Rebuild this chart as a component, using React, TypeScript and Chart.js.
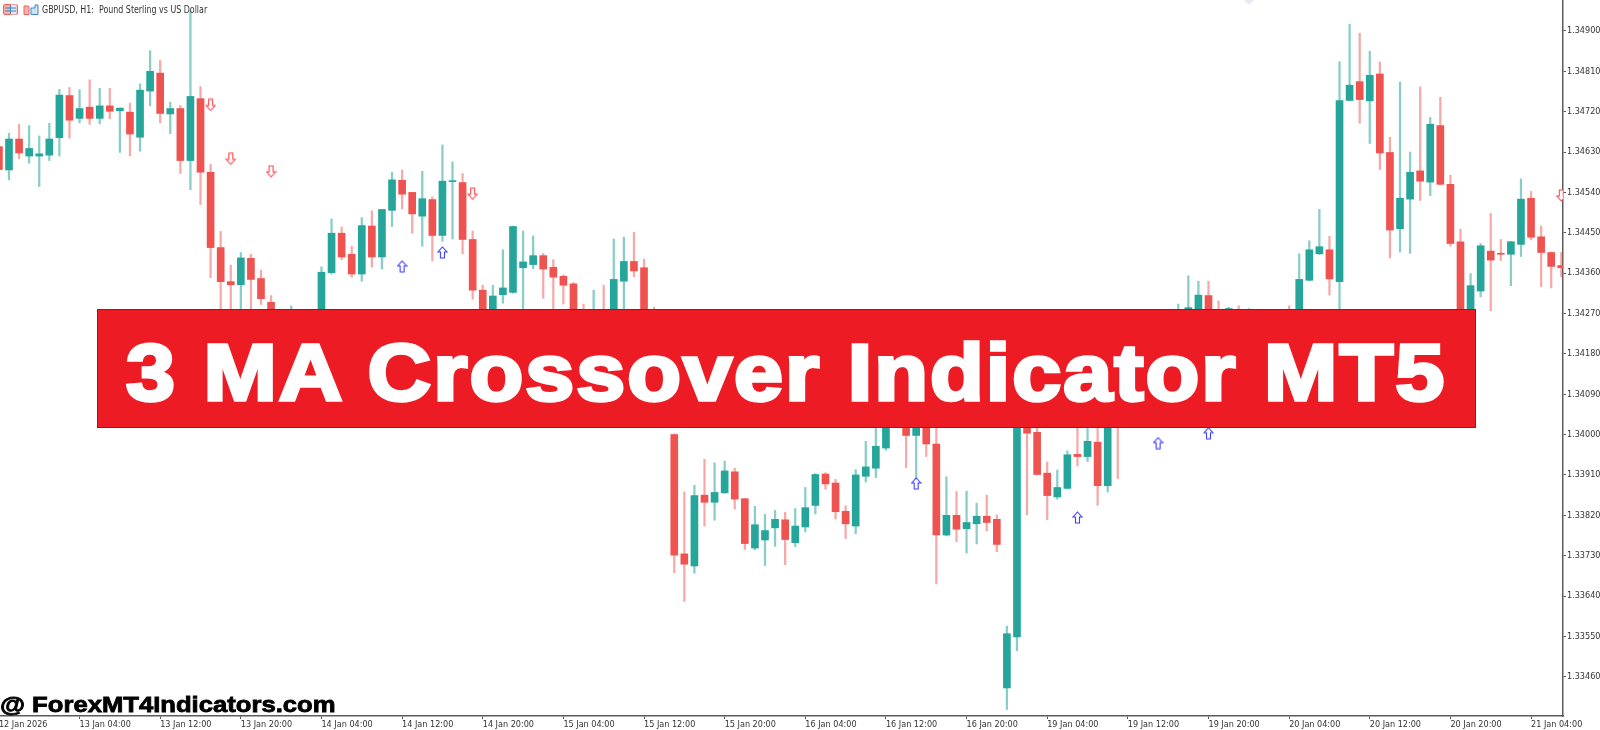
import React, { useEffect, useRef } from 'react';
import { Chart, registerables } from 'chart.js';

Chart.register(...registerables);

// prices in points (1 point = 0.00001), one entry per H1 bar
const opens = [
  134642, 134590, 134659, 134621, 134621, 134623, 134662, 134756, 134705, 134730, 134705, 134733, 134722,
  134719, 134663, 134766, 134806, 134715, 134727, 134611, 134749, 134585, 134417, 134341, 134334, 134393,
  134348, 134295, 134230, 134170, 134235, 134255, 134225, 134361, 134449, 134402, 134358, 134465, 134396,
  134500, 134567, 134540, 134487, 134524, 134444, 134564, 134562, 134435, 134322, 134250, 134312, 134317,
  134372, 134379, 134399, 134373, 134353, 134336, 134245, 134215, 134252, 134225, 134342, 134386, 134372,
  134240, 134130, 134000, 133734, 133707, 133865, 133849, 133870, 133917, 133857, 133747, 133765, 133792,
  133810, 133759, 133794, 133842, 133912, 133892, 133829, 133796, 133907, 133925, 133970, 134060, 134040,
  133998, 134045, 133979, 133776, 133820, 133790, 133801, 133818, 133811, 133435, 133549, 134040, 134005,
  133914, 133861, 133880, 133956, 133951, 133983, 133886, 134030, 134030, 134070, 134130, 134095, 134160,
  134225, 134260, 134275, 134310, 134255, 134240, 134275, 134255, 134270, 134245, 134262, 134275, 134235,
  134344, 134403, 134412, 134341, 134745, 134787, 134744, 134804, 134629, 134459, 134525, 134588, 134563,
  134689, 134558, 134430, 134240, 134320, 134409, 134404, 134402, 134424, 134527, 134441, 134406, 134377,
];
const highs = [
  134672, 134672, 134692, 134689, 134666, 134694, 134770, 134774, 134769, 134791, 134772, 134772, 134728,
  134739, 134782, 134856, 134834, 134741, 134734, 134945, 134776, 134603, 134453, 134378, 134406, 134402,
  134367, 134310, 134245, 134287, 134270, 134272, 134374, 134481, 134463, 134420, 134484, 134499, 134502,
  134585, 134590, 134540, 134587, 134530, 134646, 134608, 134582, 134454, 134333, 134333, 134412, 134465,
  134454, 134443, 134404, 134390, 134356, 134339, 134291, 134322, 134333, 134436, 134440, 134451, 134391,
  134284, 134140, 134002, 133872, 133887, 133945, 133937, 133941, 133925, 133858, 133840, 133822, 133831,
  133827, 133835, 133882, 133913, 133915, 133900, 133841, 133922, 133985, 134035, 134090, 134085, 134060,
  134070, 134060, 134060, 133906, 133873, 133874, 133847, 133865, 133821, 133573, 134060, 134060, 134040,
  133939, 133921, 133964, 134040, 134040, 134040, 134070, 134050, 134100, 134150, 134160, 134190, 134260,
  134291, 134354, 134342, 134342, 134298, 134284, 134287, 134281, 134278, 134276, 134275, 134287, 134403,
  134432, 134502, 134442, 134831, 134915, 134895, 134855, 134831, 134663, 134786, 134630, 134775, 134707,
  134752, 134578, 134458, 134359, 134426, 134493, 134435, 134431, 134570, 134542, 134465, 134407, 134406,
];
const lows = [
  134570, 134568, 134615, 134605, 134553, 134611, 134621, 134661, 134695, 134692, 134693, 134704, 134629,
  134621, 134632, 134733, 134695, 134671, 134582, 134546, 134513, 134350, 134230, 134240, 134250, 134260,
  134290, 134200, 134170, 134150, 134215, 134205, 134205, 134358, 134390, 134351, 134342, 134373, 134369,
  134464, 134503, 134449, 134420, 134387, 134431, 134436, 134403, 134302, 134220, 134235, 134293, 134315,
  134240, 134370, 134304, 134250, 134291, 134220, 134200, 134195, 134205, 134205, 134250, 134352, 134220,
  134110, 134020, 133692, 133628, 133691, 133796, 133809, 133869, 133834, 133744, 133743, 133708, 133751,
  133710, 133750, 133783, 133823, 133878, 133812, 133768, 133779, 133894, 133904, 133965, 134030, 133926,
  133899, 133951, 133667, 133774, 133761, 133736, 133756, 133785, 133739, 133387, 133518, 133821, 133910,
  133810, 133856, 133879, 133930, 133940, 133842, 133872, 133902, 134020, 134055, 134075, 134050, 134140,
  134200, 134240, 134255, 134225, 134205, 134220, 134240, 134240, 134230, 134230, 134225, 134215, 134210,
  134343, 134402, 134311, 134240, 134744, 134694, 134649, 134591, 134394, 134407, 134404, 134522, 134533,
  134557, 134420, 134220, 134225, 134307, 134276, 134388, 134332, 134397, 134434, 134330, 134327, 134352,
];
const closes = [
  134591, 134659, 134628, 134638, 134626, 134659, 134757, 134701, 134727, 134705, 134733, 134721, 134728,
  134670, 134768, 134810, 134716, 134727, 134611, 134754, 134585, 134417, 134341, 134334, 134394, 134346,
  134303, 134230, 134190, 134235, 134255, 134225, 134362, 134449, 134396, 134358, 134466, 134396, 134502,
  134568, 134536, 134492, 134526, 134444, 134565, 134565, 134435, 134322, 134250, 134309, 134327, 134464,
  134385, 134399, 134369, 134351, 134333, 134240, 134215, 134250, 134225, 134346, 134386, 134365, 134240,
  134130, 134030, 133731, 133711, 133864, 133849, 133871, 133919, 133856, 133757, 133799, 133786, 133811,
  133766, 133796, 133837, 133911, 133890, 133828, 133801, 133910, 133928, 133974, 134060, 134050, 133998,
  134045, 133979, 133776, 133820, 133789, 133804, 133818, 133804, 133755, 133556, 134040, 134003, 133911,
  133864, 133882, 133955, 133951, 133985, 133886, 134030, 134020, 134070, 134130, 134095, 134160, 134225,
  134265, 134283, 134311, 134250, 134225, 134281, 134255, 134272, 134245, 134262, 134240, 134235, 134346,
  134412, 134419, 134347, 134745, 134779, 134747, 134801, 134628, 134456, 134527, 134585, 134565, 134692,
  134558, 134426, 134240, 134332, 134421, 134389, 134402, 134430, 134525, 134440, 134406, 134375, 134372,
];

const sellBars = [21, 23, 27, 47, 155];
const sellPrices = [134735, 134615, 134587, 134537, 134533];
const buyBars = [40, 44, 91, 107, 115, 120];
const buyPrices = [134375, 134406, 133891, 133815, 133981, 134003];

const timeTickBars = [0, 8, 16, 24, 32, 40, 48, 56, 64, 72, 80, 88, 96, 104, 112, 120, 128, 136, 144, 152];
const timeTickLabels = [
  '12 Jan 2026', '13 Jan 04:00', '13 Jan 12:00', '13 Jan 20:00', '14 Jan 04:00', '14 Jan 12:00', '14 Jan 20:00',
  '15 Jan 04:00', '15 Jan 12:00', '15 Jan 20:00', '16 Jan 04:00', '16 Jan 12:00', '16 Jan 20:00', '19 Jan 04:00',
  '19 Jan 12:00', '19 Jan 20:00', '20 Jan 04:00', '20 Jan 12:00', '20 Jan 20:00', '21 Jan 04:00',
];
const priceTicks = [
  133460, 133550, 133640, 133730, 133820, 133910, 134000, 134090, 134180, 134270, 134360, 134450, 134540,
  134630, 134720, 134810, 134900,
];

const UP = '#26a69a';
const DOWN = '#ef5350';
const UP_WICK = 'rgba(38,166,154,0.55)';
const DOWN_WICK = 'rgba(239,83,80,0.5)';
const AXIS = '#5c5c5c';
const AXIS_FONT = '"DejaVu Sans Condensed", "Liberation Sans", sans-serif';

// hollow MT5 style arrow used as the point image
const makeArrow = (color: string, up: boolean) => {
  const c = document.createElement('canvas');
  c.width = 11;
  c.height = 13;
  const ctx = c.getContext('2d')!;
  if (!up) {
    ctx.translate(0, 13);
    ctx.scale(1, -1);
  }
  ctx.beginPath();
  ctx.moveTo(5.5, 1);
  ctx.lineTo(10, 6);
  ctx.lineTo(7.5, 6);
  ctx.lineTo(7.5, 12);
  ctx.lineTo(3.5, 12);
  ctx.lineTo(3.5, 6);
  ctx.lineTo(1, 6);
  ctx.closePath();
  ctx.fillStyle = '#fff';
  ctx.fill();
  ctx.strokeStyle = color;
  ctx.lineWidth = 1.1;
  ctx.stroke();
  return c;
};

const App: React.FC = () => {
  const canvasRef = useRef<HTMLCanvasElement>(null);

  useEffect(() => {
    document.body.style.margin = '0';
    if (!canvasRef.current) return;

    const isUp = (i: number) => closes[i] >= opens[i];

    const chart = new Chart(canvasRef.current, {
      type: 'bar',
      data: {
        datasets: [
          {
            label: 'Wicks',
            order: 3,
            data: highs.map((h, i) => ({ x: i, y: [lows[i], h] })) as any,
            backgroundColor: highs.map((_, i) => (isUp(i) ? UP_WICK : DOWN_WICK)),
            barThickness: 1.6,
            grouped: false,
          },
          {
            label: 'Bodies',
            order: 2,
            data: opens.map((o, i) => ({ x: i, y: [o, closes[i]] })) as any,
            backgroundColor: opens.map((_, i) => (isUp(i) ? UP : DOWN)),
            barThickness: 7,
            minBarLength: 1,
            grouped: false,
          },
          {
            type: 'scatter',
            label: 'Sell',
            order: 1,
            data: sellBars.map((b, i) => ({ x: b, y: sellPrices[i] })),
            pointStyle: makeArrow('#f8474a', false),
          },
          {
            type: 'scatter',
            label: 'Buy',
            order: 1,
            data: buyBars.map((b, i) => ({ x: b, y: buyPrices[i] })),
            pointStyle: makeArrow('#3c3cff', true),
          },
        ] as any,
      },
      options: {
        animation: false,
        responsive: false,
        devicePixelRatio: 1,
        // scatter points would otherwise pull the plot in by their radius
        layout: { padding: 0, autoPadding: false },
        plugins: { legend: { display: false }, title: { display: false }, tooltip: { enabled: false } },
        scales: {
          x: {
            type: 'linear',
            offset: false,
            min: 0.107,
            max: 155.17,
            afterBuildTicks: (s: any) => {
              s.ticks = timeTickBars.map(value => ({ value }));
            },
            afterFit: (s: any) => {
              s.height = 14;
              s.paddingLeft = 0;
              s.paddingRight = 0;
            },
            grid: { offset: false, drawOnChartArea: false, tickLength: 3, tickColor: AXIS, tickWidth: 1 },
            border: { color: AXIS, width: 1.5 },
            ticks: {
              autoSkip: false,
              maxRotation: 0,
              align: 'start',
              padding: 0,
              color: '#333',
              font: { family: AXIS_FONT, size: 9 },
              callback: (v: any) => timeTickLabels[timeTickBars.indexOf(v)],
            },
          },
          y: {
            type: 'linear',
            position: 'right',
            min: 133372.5,
            max: 134969,
            afterBuildTicks: (s: any) => {
              s.ticks = priceTicks.map(value => ({ value }));
            },
            afterFit: (s: any) => {
              s.width = 37;
              s.paddingTop = 0;
              s.paddingBottom = 0;
            },
            grid: { drawOnChartArea: false, tickLength: 3, tickColor: AXIS, tickWidth: 1 },
            border: { color: AXIS, width: 1.5 },
            ticks: {
              autoSkip: false,
              padding: 1,
              color: '#333',
              font: { family: AXIS_FONT, size: 9 },
              callback: (v: any) => (v / 100000).toFixed(5),
            },
          },
        },
      },
    });

    return () => chart.destroy();
  }, []);

  return (
    <div style={{ position: 'relative', width: 1600, height: 730, overflow: 'hidden', background: '#fff', fontFamily: 'Liberation Sans, sans-serif' }}>
      <canvas ref={canvasRef} width={1600} height={730} style={{ display: 'block' }} />

      {/* chart window icons and symbol caption */}
      <svg width="40" height="14" style={{ position: 'absolute', left: 2, top: 3 }}>
        <rect x="1.5" y="1.5" width="14" height="10" rx="1.5" fill="#f7b3ad" stroke="#e8625c" />
        <path d="M8.5 1.5h6v10h-6z" fill="#dfeaf6" />
        <path d="M3 5h11M3 8h11M8.5 2v9" stroke="#3d86c6" strokeWidth="1" />
        <path d="M22 3h4l1 1v7.5h-5z" fill="#f7b3ad" stroke="#e8625c" />
        <path d="M29 5h4v-3h3v9.5h-7z" fill="#cfe3f5" stroke="#3d86c6" />
      </svg>
      <div
        style={{
          position: 'absolute',
          left: 42,
          top: 4,
          font: '10px "DejaVu Sans Condensed", "Liberation Sans", sans-serif',
          color: '#333',
          whiteSpace: 'pre',
          transform: 'scaleX(0.88)',
          transformOrigin: 'left',
        }}
      >
        GBPUSD, H1:  Pound Sterling vs US Dollar
      </div>

      {/* stray marker clipped at the top edge */}
      <svg width="10" height="5" style={{ position: 'absolute', left: 1244, top: 0 }}>
        <path d="M0 0h10L5 5z" fill="#ece6f0" />
      </svg>

      <div
        style={{
          position: 'absolute',
          left: 97,
          top: 309,
          width: 1379,
          height: 119,
          boxSizing: 'border-box',
          background: '#ed1c24',
          border: '1px solid #4a3a3a',
          color: '#fff',
          fontWeight: 700,
          fontSize: 80,
          lineHeight: '125px',
          textAlign: 'center',
          whiteSpace: 'nowrap',
        }}
      >
        <span style={{ display: 'inline-block', transform: 'scaleX(1.1)', WebkitTextStroke: '3.5px #fff', letterSpacing: 1.85 }}>
          3 MA Crossover Indicator MT5
        </span>
      </div>

      <div
        style={{
          position: 'absolute',
          left: 0,
          top: 692,
          fontWeight: 700,
          fontSize: 22,
          lineHeight: '26px',
          color: '#000',
          whiteSpace: 'nowrap',
          transform: 'scaleX(1.165)',
          transformOrigin: 'left',
          WebkitTextStroke: '0.8px #000',
        }}
      >
        @ ForexMT4Indicators.com
      </div>
    </div>
  );
};

export default App;
